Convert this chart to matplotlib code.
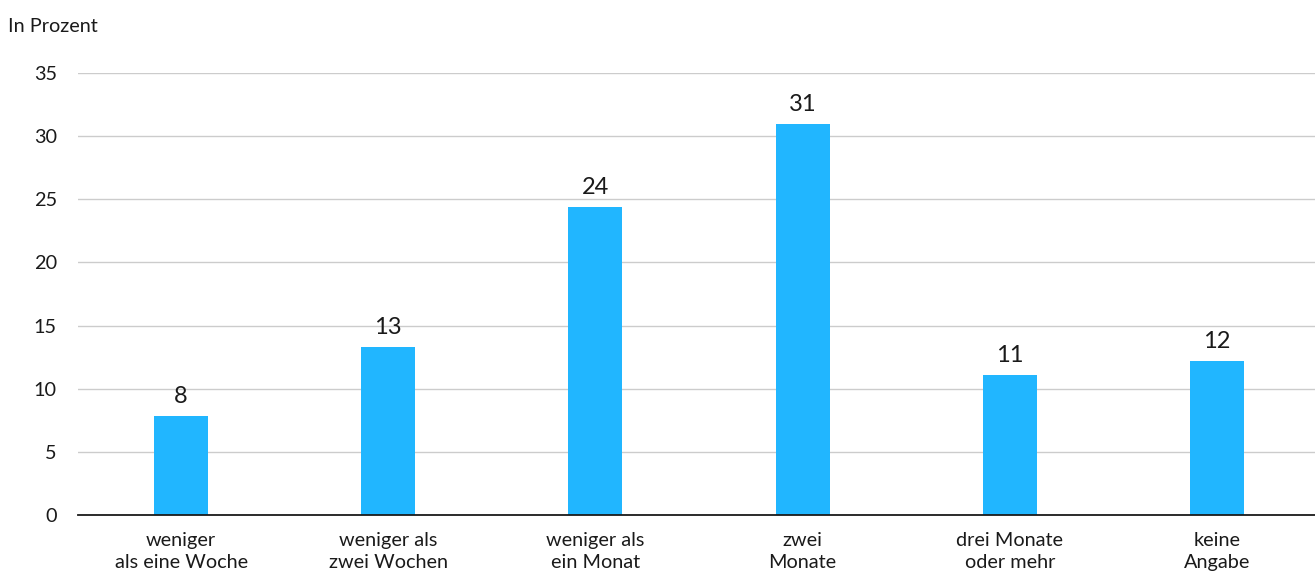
import matplotlib.pyplot as plt
import numpy as np

plt.rcParams['font.family'] = ['Lato', 'DejaVu Sans']

categories = ["weniger\nals eine Woche", "weniger als\nzwei Wochen", "weniger als\nein Monat",
              "zwei\nMonate", "drei Monate\noder mehr", "keine\nAngabe"]
values = [7.8, 13.3, 24.4, 31.0, 11.1, 12.2]
labels = ["8", "13", "24", "31", "11", "12"]
yticks = [0, 5, 10, 15, 20, 25, 30, 35]

fig = plt.figure(figsize=(13.15, 5.72), dpi=100)
ax = fig.add_axes([77.5 / 1315, 1 - 515 / 572, 1243 / 1315, (515 - 73) / 572])

x = np.arange(len(categories))
bars = ax.bar(x, values, width=0.26, color='#21b6ff', zorder=3)

# Werte über den Balken
for xi, v, lab in zip(x, values, labels):
    ax.text(xi, v + 1.03, lab, ha='center', va='baseline', fontsize=17, color='#1a1a1a')

ax.set_xlim(-0.5, len(categories) - 0.5)
ax.set_ylim(0, 35)
ax.set_yticks(yticks)
ax.set_yticklabels([str(t) for t in yticks], fontsize=14.3, color='#1a1a1a')
ax.set_xticks(x)
ax.set_xticklabels(categories, fontsize=14.3, color='#1a1a1a', linespacing=1.38)
ax.tick_params(axis='y', length=0, pad=15)
ax.tick_params(axis='x', length=0, pad=12)
ax.grid(axis='y', color='#cccccc', linewidth=1, zorder=0)

for s in ['top', 'right', 'left']:
    ax.spines[s].set_visible(False)
ax.spines['bottom'].set_color('#1a1a1a')
ax.spines['bottom'].set_linewidth(1.3)
ax.spines['bottom'].set_zorder(4)

fig.text(8 / 1315, 1 - 26 / 572, "In Prozent", fontsize=14.3, color='#1a1a1a', va='center', ha='left')

fig.savefig("out.png", dpi=100)
